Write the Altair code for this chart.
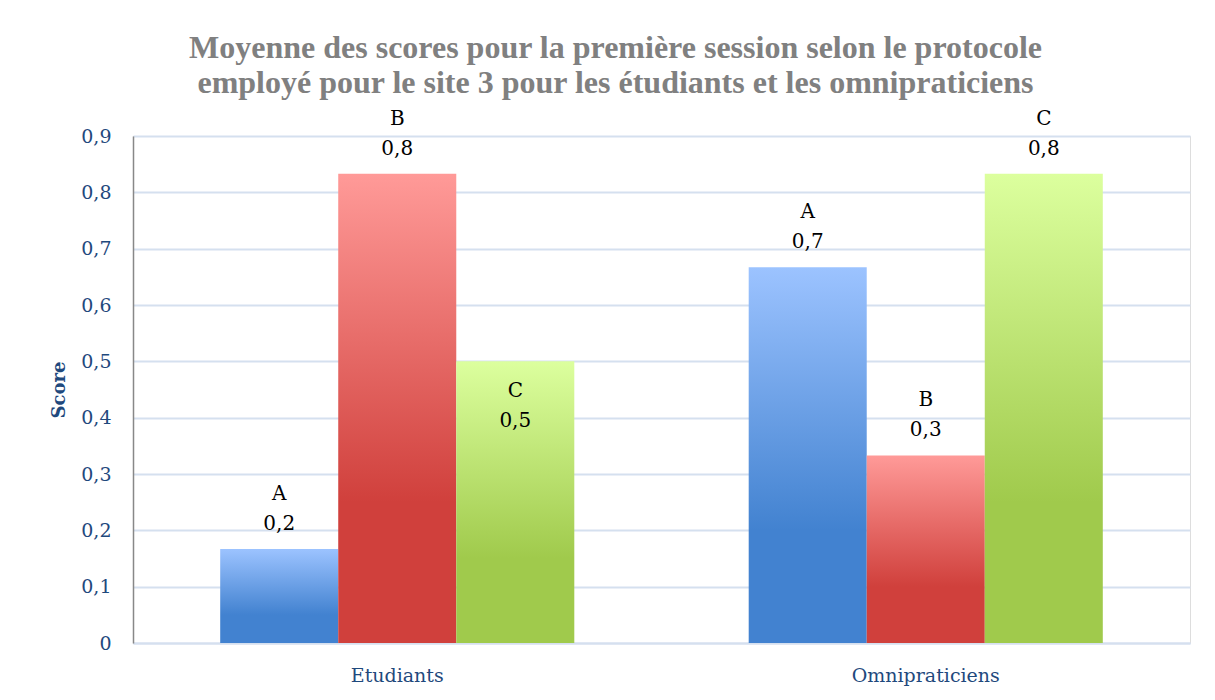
import altair as alt
import pandas as pd

groups = ["Etudiants", "Etudiants", "Etudiants", "Omnipraticiens", "Omnipraticiens", "Omnipraticiens"]
protocols = ["A", "B", "C", "A", "B", "C"]
values = [0.167, 0.833, 0.5, 0.667, 0.333, 0.833]
value_labels = ["0,2", "0,8", "0,5", "0,7", "0,3", "0,8"]
y_ticks = [0, 0.1, 0.2, 0.3, 0.4, 0.5, 0.6, 0.7, 0.8, 0.9]

df = pd.DataFrame({"groupe": groups, "protocole": protocols, "score": values, "lab": value_labels})

gradients = {
    "A": ("#9cc3ff", "#4282d0"),
    "B": ("#ff9a98", "#d0403c"),
    "C": ("#dcff9e", "#a0ca4c"),
}

FONT = "DejaVu Serif"

x_enc = alt.X("groupe:N", title=None,
              scale=alt.Scale(paddingInner=0.33, paddingOuter=0.165),
              axis=alt.Axis(labelAngle=0, labelFont=FONT, labelFontSize=19,
                            labelColor="#1f497d", labelPadding=23, ticks=False,
                            domain=True, domainColor="#d5e0ef", domainWidth=2))
y_enc = alt.Y("score:Q", title="Score",
              scale=alt.Scale(domain=[0, 0.9], nice=False),
              axis=alt.Axis(values=y_ticks,
                            labelExpr="datum.value == 0 ? '0' : replace(format(datum.value, '.1f'), '.', ',')",
                            labelFont=FONT, labelFontSize=19, labelColor="#1f497d",
                            labelPadding=22, ticks=False, domain=True, domainColor="#888888",
                            domainWidth=1.5, gridColor="#d5e0ef", gridWidth=2,
                            titleFont=FONT, titleFontSize=18, titleFontWeight="bold",
                            titleColor="#1f497d", titlePadding=12))
xo_enc = alt.XOffset("protocole:N", scale=alt.Scale(domain=["A", "B", "C"], paddingInner=0, paddingOuter=0))

layers = []
for p, (top, bottom) in gradients.items():
    grad = alt.Gradient(gradient="linear", x1=0, y1=0, x2=0, y2=1,
                        stops=[alt.GradientStop(offset=0, color=top),
                               alt.GradientStop(offset=0.7, color=bottom),
                               alt.GradientStop(offset=1, color=bottom)])
    layers.append(
        alt.Chart(df).transform_filter(alt.datum.protocole == p)
        .mark_bar(color=grad)
        .encode(x=x_enc, y=y_enc, xOffset=xo_enc)
    )

inside = "datum.groupe == 'Etudiants' && datum.protocole == 'C'"
outside = "!(" + inside + ")"
text_style = dict(baseline="middle", font=FONT, fontSize=20, color="#000000")

def text_layer(flt, field, dy):
    return alt.Chart(df).transform_filter(flt).mark_text(dy=dy, **text_style).encode(
        x=x_enc, y=y_enc, xOffset=xo_enc, text=f"{field}:N")

texts = [
    text_layer(outside, "protocole", -55),
    text_layer(outside, "lab", -25),
    text_layer(inside, "protocole", 30),
    text_layer(inside, "lab", 60),
]

chart = alt.layer(*layers, *texts).properties(
    width=1057, height=507,
    title=alt.TitleParams(
        ["Moyenne des scores pour la première session selon le protocole",
         "employé pour le site 3 pour les étudiants et les omnipraticiens"],
        font="Liberation Serif", fontSize=32, fontWeight="bold", color="#808080",
        anchor="middle", dx=-46, offset=9, lineHeight=35),
    autosize=alt.AutoSizeParams(type="none"),
    padding={"left": 125, "top": 128, "right": 17, "bottom": 50},
).configure_view(stroke=None).configure(background="white")

chart.save("out.html", embed_options={"renderer": "svg", "actions": False})
